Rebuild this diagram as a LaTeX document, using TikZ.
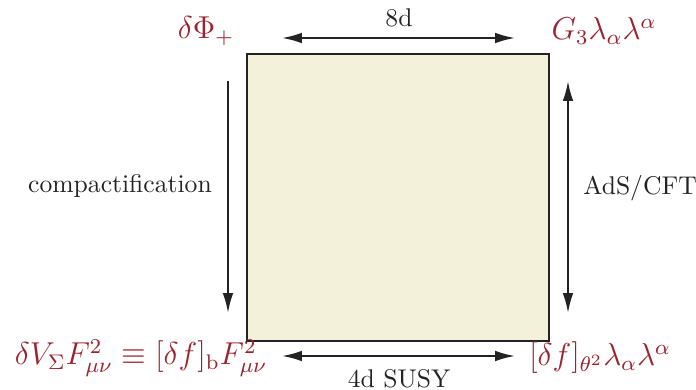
\documentclass[tikz,border=0pt]{standalone}
\usepackage{amsmath}
\definecolor{medred}{RGB}{155, 35, 45}
\definecolor{boxfill}{RGB}{243, 241, 217}
\definecolor{linegray}{RGB}{35, 35, 35}
\usetikzlibrary{arrows.meta, positioning, calc}
\tikzset{
	square/.style={rectangle, draw=linegray, fill=boxfill, line width=0.8pt, minimum width=114.4pt, minimum height=108.7pt, inner sep=0pt},
	corner/.style={text=medred, font=\large, inner sep=1pt},
	tag/.style={text=linegray, font=\normalsize, inner sep=1pt, scale=0.97},
	arrow/.style={-{Latex[length=7.5pt, width=4pt]}, line width=0.75pt, draw=linegray},
	twoway/.style={{Latex[length=7.5pt, width=4pt]}-{Latex[length=7.5pt, width=4pt]}, line width=0.75pt, draw=linegray},
}
\begin{document}
\begin{tikzpicture}[x=0.3788pt, y=-0.3788pt]
	\useasboundingbox (0,0) rectangle (696,390);
	\node[square] (box) at (398,197.5) {};
	% corner labels
	\node[corner] (phi) at (206,31) {$\delta\Phi_+$};
	\node[corner] (gee) at (604,31) {$G_3\lambda_\alpha\lambda^\alpha$};
	\node[corner] (vee) at (141,358) {$\delta V_\Sigma F_{\mu\nu}^2\equiv[\delta f]_{\mathrm{b}}F_{\mu\nu}^2$};
	\node[corner] (eff) at (600,358) {$[\delta f]_{\theta^2}\lambda_\alpha\lambda^\alpha$};
	% arrow ends
	\coordinate (topL) at (282,38);
	\coordinate (topR) at (515,38);
	\coordinate (botL) at (282,356);
	\coordinate (botR) at (515,356);
	\coordinate (lefT) at (228,81);
	\coordinate (lefB) at (228,313);
	\coordinate (rigT) at (568,81);
	\coordinate (rigB) at (568,313);
	\draw[twoway] (topL) -- (topR);
	\draw[twoway] (botL) -- (botR);
	\draw[arrow] (lefT) -- (lefB);
	\draw[twoway] (rigT) -- (rigB);
	% arrow labels
	\node[tag] (eight) at (399,18) {8d};
	\node[tag] (susy) at (399,379) {4d SUSY};
	\node[tag] (compact) at (120,186) {compactification};
	\node[tag] (ads) at (640,188) {AdS/CFT};
\end{tikzpicture}
\end{document}
